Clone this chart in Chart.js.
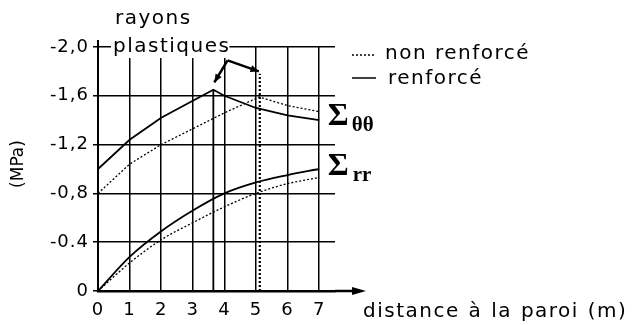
<!DOCTYPE html>
<html>
<head>
<meta charset="utf-8">
<script src="https://cdn.jsdelivr.net/npm/chart.js@4"></script>
<style>
  html, body { margin: 0; padding: 0; background: #fff; }
  #wrap { width: 632px; height: 325px; }
</style>
</head>
<body>
<div id="wrap"><canvas id="myChart" width="632" height="325"></canvas></div>
<script>
// Contraintes autour de la galerie : Σθθ et Σrr, avec et sans renforcement.
const xThetaRenf = [0, 1, 2, 3, 3.65, 4, 5, 6, 7];
const sigThetaRenf = [-1.0, -1.24, -1.42, -1.56, -1.65, -1.6, -1.5, -1.44, -1.4];

const xThetaNon = [0, 1, 2, 3, 4, 5.1, 6, 7];
const sigThetaNon = [-0.8, -1.04, -1.2, -1.33, -1.46, -1.59, -1.52, -1.47];

const xRr = [0, 1, 2, 3, 4, 5, 6, 7];
const sigRrRenf = [0, -0.28, -0.49, -0.66, -0.8, -0.89, -0.95, -1.0];
const sigRrNon = [0, -0.23, -0.42, -0.56, -0.69, -0.8, -0.88, -0.93];

// Rayons plastiques : renforcé puis non renforcé.
const rayonsX = [3.65, 5.12];
const rayonsHaut = [-1.65, -1.78];

// Graduations de l'axe vertical.
const yTicks = [0, -0.4, -0.8, -1.2, -1.6, -2.0];
const yTickLabels = ['0', '-0.4', '-0,8', '-1,2', '-1,6', '-2,0'];
const xTicks = [0, 1, 2, 3, 4, 5, 6, 7];

const police = '"DejaVu Sans", sans-serif';
const dotted = [2, 2];

function toPoints(xs, ys) {
  return xs.map((v, i) => ({x: v, y: ys[i]}));
}

const ctx = document.querySelector('#myChart');

// Petit espacement des lettres pour les graduations.
const espacement = {
  id: 'espacement',
  beforeUpdate(chart) {
    chart.ctx.letterSpacing = '1px';
  },
  beforeDraw(chart) {
    chart.ctx.letterSpacing = '1px';
  }
};

// Décorations : légende, flèches, étiquettes Σ et flèche de l'axe.
const decor = {
  id: 'decor',
  afterDraw(chart) {
    const c = chart.ctx;
    const xs = chart.scales.x;
    const ys = chart.scales.y;
    const x0 = xs.getPixelForValue(0);
    const y0 = ys.getPixelForValue(0);
    const xEnd = xs.getPixelForValue(7.5);
    c.save();
    c.strokeStyle = '#000';
    c.fillStyle = '#000';

    // flèche de l'axe des distances
    c.lineWidth = 2.5;
    c.beginPath();
    c.moveTo(xEnd, y0);
    c.lineTo(358, y0);
    c.stroke();
    c.beginPath();
    c.moveTo(366, y0);
    c.lineTo(352, y0 - 4);
    c.lineTo(352, y0 + 4);
    c.closePath();
    c.fill();

    // prolongement de l'axe vertical
    c.lineWidth = 2;
    c.beginPath();
    c.moveTo(x0, chart.chartArea.top);
    c.lineTo(x0, chart.chartArea.top - 7);
    c.stroke();

    // "rayons plastiques"
    c.letterSpacing = '1.5px';
    c.font = '20px ' + police;
    c.textBaseline = 'middle';
    c.textAlign = 'left';
    const w = c.measureText('plastiques').width;
    c.fillStyle = '#fff';
    c.fillRect(111, 37, w + 1, 21);
    c.fillStyle = '#000';
    c.fillText('plastiques', 113, 47);
    c.fillText('rayons', 115, 19);

    // flèches vers les rayons plastiques
    const apexX = xs.getPixelForValue(4.1);
    const apexY = ys.getPixelForValue(-1.89);
    const tips = [
      [xs.getPixelForValue(rayonsX[0]) + 1, ys.getPixelForValue(-1.71)],
      [xs.getPixelForValue(rayonsX[1]) - 1, ys.getPixelForValue(-1.8)]
    ];
    c.lineWidth = 2.5;
    tips.forEach(([tx, ty]) => {
      c.beginPath();
      c.moveTo(apexX, apexY);
      c.lineTo(tx, ty);
      c.stroke();
      const a = Math.atan2(ty - apexY, tx - apexX);
      c.beginPath();
      c.moveTo(tx, ty);
      c.lineTo(tx - 9 * Math.cos(a - 0.4), ty - 9 * Math.sin(a - 0.4));
      c.lineTo(tx - 9 * Math.cos(a + 0.4), ty - 9 * Math.sin(a + 0.4));
      c.closePath();
      c.fill();
    });

    // légende
    c.lineWidth = 1.5;
    c.setLineDash(dotted);
    c.beginPath();
    c.moveTo(352, 55);
    c.lineTo(376, 55);
    c.stroke();
    c.setLineDash([]);
    c.beginPath();
    c.moveTo(352, 78);
    c.lineTo(376, 78);
    c.stroke();
    c.fillText('non renforcé', 385, 54);
    c.fillText('renforcé', 388, 79);

    // titre de l'axe des distances
    c.wordSpacing = '1px';
    c.fillText('distance à la paroi (m)', 363, 312);
    c.wordSpacing = '0px';

    // titre de l'axe vertical
    c.letterSpacing = '0px';
    c.save();
    c.translate(19, 164);
    c.rotate(-Math.PI / 2);
    c.textAlign = 'center';
    c.font = '17px ' + police;
    c.fillText('(MPa)', 0, 0);
    c.restore();

    // étiquettes des courbes
    const lx = xs.getPixelForValue(7.27);
    c.textAlign = 'left';
    c.font = 'bold 32px "Liberation Serif", serif';
    c.fillText('Σ', lx, ys.getPixelForValue(-1.43));
    c.fillText('Σ', lx, ys.getPixelForValue(-1.02));
    c.font = 'bold 21px "Liberation Serif", serif';
    c.fillText('θθ', lx + 24, ys.getPixelForValue(-1.36));
    c.fillText('rr', lx + 25, ys.getPixelForValue(-0.95));
    c.restore();
  }
};

new Chart(ctx, {
  type: 'scatter',
  data: {
    datasets: [
      {
        label: 'Σθθ renforcé',
        data: toPoints(xThetaRenf, sigThetaRenf),
        borderColor: '#000',
        borderWidth: 1.8,
        showLine: true,
        pointRadius: 0,
        tension: 0
      },
      {
        label: 'Σθθ non renforcé',
        data: toPoints(xThetaNon, sigThetaNon),
        borderColor: '#000',
        borderWidth: 1.3,
        borderDash: dotted,
        showLine: true,
        pointRadius: 0,
        tension: 0
      },
      {
        label: 'Σrr renforcé',
        data: toPoints(xRr, sigRrRenf),
        borderColor: '#000',
        borderWidth: 1.8,
        showLine: true,
        pointRadius: 0,
        cubicInterpolationMode: 'monotone'
      },
      {
        label: 'Σrr non renforcé',
        data: toPoints(xRr, sigRrNon),
        borderColor: '#000',
        borderWidth: 1.3,
        borderDash: dotted,
        showLine: true,
        pointRadius: 0,
        cubicInterpolationMode: 'monotone'
      },
      {
        label: 'rayon plastique renforcé',
        data: [{x: rayonsX[0], y: 0}, {x: rayonsX[0], y: rayonsHaut[0]}],
        borderColor: '#000',
        borderWidth: 1.8,
        showLine: true,
        pointRadius: 0
      },
      {
        label: 'rayon plastique non renforcé',
        data: [{x: rayonsX[1], y: 0}, {x: rayonsX[1], y: rayonsHaut[1]}],
        borderColor: '#000',
        borderWidth: 2.2,
        borderDash: dotted,
        showLine: true,
        pointRadius: 0
      }
    ]
  },
  options: {
    responsive: false,
    animation: false,
    layout: {padding: {left: 0, right: 297, top: 47, bottom: 0}},
    plugins: {
      legend: {display: false},
      tooltip: {enabled: false}
    },
    scales: {
      x: {
        type: 'linear',
        min: 0,
        max: 7.5,
        afterBuildTicks: scale => {
          scale.ticks = xTicks.map(v => ({value: v}));
        },
        afterFit: scale => {
          scale.height = 34;
        },
        grid: {color: '#000', lineWidth: 1.5, drawTicks: false},
        border: {color: '#000', width: 2.5},
        ticks: {
          color: '#000',
          padding: 9,
          maxRotation: 0,
          font: {family: police, size: 18}
        }
      },
      y: {
        type: 'linear',
        min: -2,
        max: 0,
        reverse: true,
        afterBuildTicks: scale => {
          scale.ticks = yTicks.map(v => ({value: v}));
        },
        afterFit: scale => {
          scale.width = 98;
        },
        grid: {color: '#000', lineWidth: 1.5, tickLength: 5},
        border: {color: '#000', width: 2},
        ticks: {
          color: '#000',
          padding: 4,
          font: {family: police, size: 18},
          callback: (value, index) => yTickLabels[index]
        }
      }
    }
  },
  plugins: [espacement, decor]
});
</script>
</body>
</html>
